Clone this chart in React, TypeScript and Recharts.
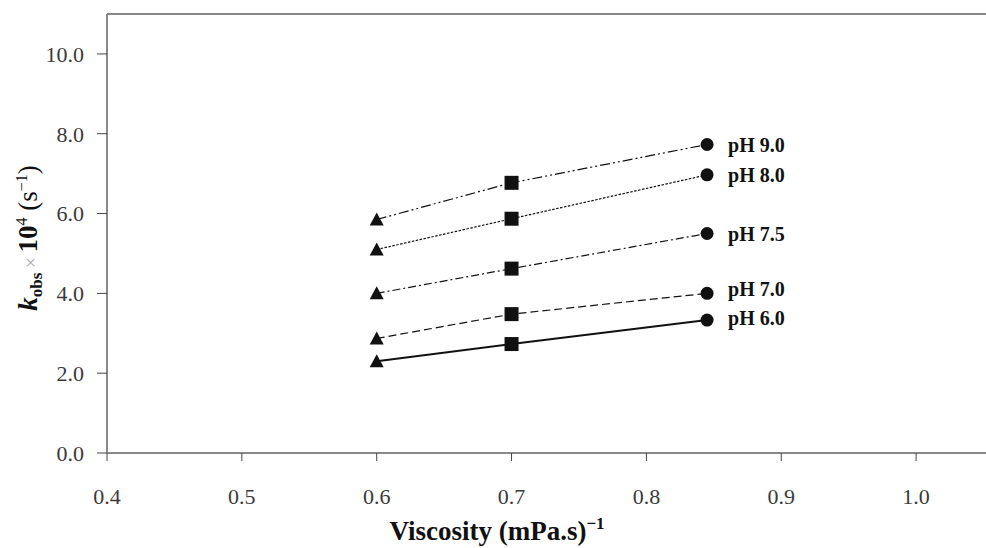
import React from 'react';
import { LineChart, Line, XAxis, YAxis, ReferenceLine, LabelList } from 'recharts';

// viscosity^-1 at which k_obs was measured
const viscosity = [0.6, 0.7, 0.845];

// k_obs x 10^4 (s^-1) per pH
const ph90 = [5.85, 6.77, 7.73];
const ph80 = [5.1, 5.87, 6.97];
const ph75 = [4.0, 4.62, 5.5];
const ph70 = [2.87, 3.48, 4.0];
const ph60 = [2.3, 2.73, 3.33];

const seriesNames = ['pH 9.0', 'pH 8.0', 'pH 7.5', 'pH 7.0', 'pH 6.0'];
const seriesKeys = ['ph90', 'ph80', 'ph75', 'ph70', 'ph60'];

const xTicks = [0.4, 0.5, 0.6, 0.7, 0.8, 0.9, 1.0];
const yTicks = [0, 2, 4, 6, 8, 10];

const data = viscosity.map((x, i) => ({
  x,
  ph90: ph90[i],
  ph80: ph80[i],
  ph75: ph75[i],
  ph70: ph70[i],
  ph60: ph60[i],
}));

const FONT = '"Liberation Serif", "Times New Roman", serif';
const INK = '#111';

// line style per series (same order as seriesKeys)
const styles = [
  { dash: '10 3 2 3 2 3', width: 1.2, labelDy: 0 },
  { dash: '2.5 1.5', width: 1.2, labelDy: 0 },
  { dash: '8 3 2 3', width: 1.2, labelDy: 0 },
  { dash: '8 4', width: 1.2, labelDy: -4 },
  { dash: undefined, width: 2, labelDy: -2 },
];

// triangle at first point, square at second, circle at last
const Marker = (props: any) => {
  const { cx, cy, index } = props;
  if (cx == null || cy == null) return null;
  const k = `m-${index}-${cx}-${cy}`;
  if (index === 0) {
    return <polygon key={k} points={`${cx},${cy - 7} ${cx + 7},${cy + 6} ${cx - 7},${cy + 6}`} fill={INK} />;
  }
  if (index === 1) {
    return <rect key={k} x={cx - 7} y={cy - 7} width={14} height={14} fill={INK} />;
  }
  return <circle key={k} cx={cx} cy={cy} r={6.5} fill={INK} />;
};

const makeEndLabel = (name: string, dy: number) => (props: any) => {
  const { x, y, index } = props;
  if (index !== viscosity.length - 1) return null;
  return (
    <text x={x + 21} y={y + 7 + dy} fontFamily={FONT} fontSize={20} fontWeight="bold" fill={INK}>
      {name}
    </text>
  );
};

const YTitle = () => (
  <text transform="translate(37,238) rotate(-90)" textAnchor="middle" fontFamily={FONT} fontSize={27} fill={INK}>
    <tspan fontStyle="italic" fontWeight="bold">k</tspan>
    <tspan fontSize={17} fontWeight="bold" dy={5}>obs</tspan>
    <tspan dy={-5} fontSize={19} fill="#aaa"> × </tspan>
    <tspan fontWeight="bold">10</tspan>
    <tspan fontSize={16} dy={-10}>4</tspan>
    <tspan dy={10}> (s</tspan>
    <tspan fontSize={16} dy={-10}>−1</tspan>
    <tspan dy={10}>)</tspan>
  </text>
);

const XTitle = () => (
  <text x={497} y={540} textAnchor="middle" fontFamily={FONT} fontSize={27} fontWeight="bold" fill={INK}>
    Viscosity (mPa.s)
    <tspan fontSize={17} dy={-11}>−1</tspan>
  </text>
);

export default function App() {
  return (
    <div style={{ position: 'absolute', left: 0, top: 0, width: 986, height: 548, overflow: 'hidden', background: '#fff' }}>
      <LineChart width={1000} height={548} data={data} margin={{ top: 14, right: 3, bottom: 0, left: 0 }}>
        <XAxis
          dataKey="x"
          type="number"
          domain={[0.4, 1.06]}
          ticks={xTicks}
          tickFormatter={(v: number) => v.toFixed(1)}
          height={95}
          tickSize={8}
          tickMargin={27}
          axisLine={{ stroke: '#888', strokeWidth: 2 }}
          tickLine={{ stroke: '#444' }}
          tick={{ fontFamily: FONT, fontSize: 22, fill: '#3a3a3a' }}
          label={{ content: () => <XTitle /> }}
        />
        <YAxis
          type="number"
          domain={[0, 11]}
          ticks={yTicks}
          tickFormatter={(v: number) => v.toFixed(1)}
          width={107}
          tickSize={10}
          tickMargin={13}
          axisLine={{ stroke: '#888', strokeWidth: 2 }}
          tickLine={{ stroke: '#444' }}
          tick={{ fontFamily: FONT, fontSize: 22, fill: '#3a3a3a' }}
          label={{ content: () => <YTitle /> }}
        />
        <ReferenceLine y={11} stroke="#888" strokeWidth={2} />
        {seriesKeys.map((key, i) => (
          <Line
            key={key}
            type="linear"
            dataKey={key}
            name={seriesNames[i]}
            stroke={INK}
            strokeWidth={styles[i].width}
            strokeDasharray={styles[i].dash}
            dot={Marker}
            activeDot={false}
            isAnimationActive={false}
          >
            <LabelList dataKey={key} content={makeEndLabel(seriesNames[i], styles[i].labelDy)} />
          </Line>
        ))}
      </LineChart>
    </div>
  );
}
